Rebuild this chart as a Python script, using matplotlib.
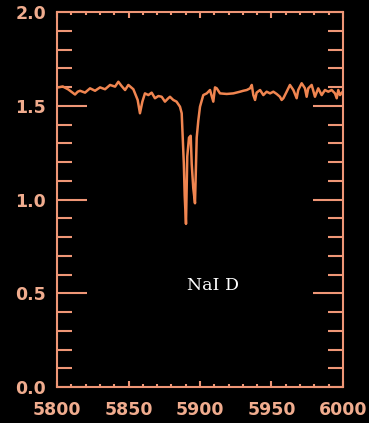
import matplotlib
matplotlib.use("Agg")
import matplotlib.pyplot as plt
from matplotlib.ticker import MultipleLocator

# spectrum around the sodium doublet
wavelength = [5800.0, 5801.0, 5804.0, 5807.9, 5810.0, 5812.6, 5814.5, 5816.1, 5819.6,
              5823.1, 5826.6, 5830.1, 5833.6, 5837.1, 5840.6, 5842.9, 5845.2, 5847.6,
              5849.9, 5853.4, 5856.4, 5858.0, 5859.7, 5861.5, 5863.9, 5866.2, 5868.5,
              5870.9, 5873.2, 5875.5, 5877.8, 5879.0, 5881.3, 5883.6, 5886.0, 5887.2,
              5887.7, 5888.7, 5889.3, 5890.2, 5891.1, 5892.3, 5893.5, 5894.2, 5895.3,
              5896.5, 5897.7, 5898.8, 5900.0, 5902.3, 5904.7, 5907.0, 5909.3, 5910.5,
              5911.7, 5914.0, 5918.7, 5923.3, 5928.0, 5930.3, 5932.7, 5935.0, 5936.2,
              5937.3, 5938.5, 5939.6, 5942.0, 5944.3, 5946.6, 5949.0, 5951.3, 5953.6,
              5955.9, 5957.1, 5958.3, 5960.6, 5962.9, 5965.3, 5967.6, 5968.7, 5971.1,
              5973.4, 5974.6, 5975.7, 5978.1, 5980.4, 5982.7, 5985.1, 5987.4, 5989.7,
              5992.1, 5994.4, 5995.6, 5996.7, 5997.9, 5999.8]
flux = [1.600, 1.598, 1.603, 1.587, 1.575, 1.560, 1.575, 1.580, 1.570,
        1.593, 1.580, 1.598, 1.588, 1.611, 1.602, 1.628, 1.605, 1.584,
        1.611, 1.588, 1.531, 1.460, 1.522, 1.566, 1.557, 1.570, 1.540,
        1.552, 1.548, 1.522, 1.540, 1.548, 1.531, 1.522, 1.495, 1.460,
        1.370, 1.190, 1.020, 0.870, 1.230, 1.330, 1.340, 1.190, 1.060,
        0.980, 1.330, 1.420, 1.495, 1.557, 1.566, 1.584, 1.522, 1.598,
        1.593, 1.566, 1.563, 1.566, 1.575, 1.580, 1.584, 1.593, 1.611,
        1.557, 1.531, 1.570, 1.584, 1.557, 1.575, 1.566, 1.575, 1.563,
        1.548, 1.531, 1.540, 1.575, 1.611, 1.584, 1.540, 1.584, 1.620,
        1.593, 1.548, 1.593, 1.611, 1.548, 1.593, 1.557, 1.584, 1.575,
        1.584, 1.566, 1.540, 1.584, 1.557, 1.575]

x_ticks = [5800, 5850, 5900, 5950, 6000]
y_ticks = [0.0, 0.5, 1.0, 1.5, 2.0]

axis_col = '#EE9676'
label_col = '#F0AC8E'
line_col = '#F08550'

fig = plt.figure(figsize=(3.69, 4.23), dpi=100, facecolor='black')
ax = fig.add_axes([0.1545, 0.0851, 0.775, 0.8865], facecolor='black')

ax.plot(wavelength, flux, color=line_col, lw=1.8)

ax.set_xlim(5800, 6000)
ax.set_ylim(0, 2.0)
ax.set_xticks(x_ticks)
ax.set_xticklabels([str(t) for t in x_ticks])
ax.set_yticks(y_ticks)
ax.set_yticklabels(['%.1f' % t for t in y_ticks])
ax.xaxis.set_minor_locator(MultipleLocator(10))
ax.yaxis.set_minor_locator(MultipleLocator(0.1))

for s in ax.spines.values():
    s.set_color(axis_col)
    s.set_linewidth(1.5)

ax.tick_params(axis='both', which='both', direction='in', colors=axis_col,
               labelcolor=label_col, labelsize=12.5, width=1.5,
               top=True, right=True)
ax.tick_params(axis='x', which='major', length=4, pad=10)
ax.tick_params(axis='x', which='minor', length=2.2)
ax.tick_params(axis='y', which='major', length=21.5, pad=8)
ax.tick_params(axis='y', which='minor', length=10.8)
for lab in ax.get_xticklabels() + ax.get_yticklabels():
    lab.set_fontweight('bold')

ax.text(5891, 0.544, 'NaI D', color='white', fontsize=12.5,
        family='DejaVu Serif', va='center', ha='left')

fig.savefig('out.png', dpi=100, facecolor='black')
